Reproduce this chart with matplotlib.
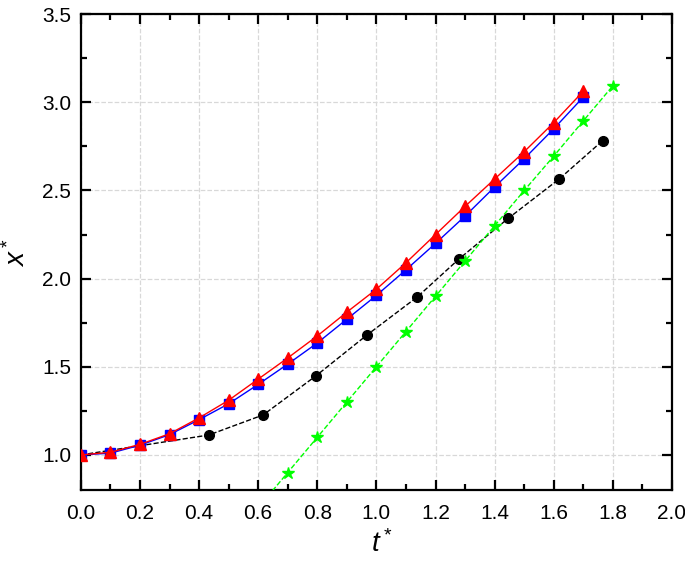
import numpy as np
import matplotlib
matplotlib.use('Agg')
import matplotlib.pyplot as plt
from matplotlib.ticker import MultipleLocator

plt.rcParams['font.family'] = ['Liberation Sans', 'DejaVu Sans']
plt.rcParams['mathtext.fontset'] = 'custom'
plt.rcParams['mathtext.it'] = 'Liberation Sans:italic'
plt.rcParams['mathtext.rm'] = 'Liberation Sans'

# series
t_sq = [0.0, 0.1, 0.2, 0.3, 0.4, 0.5, 0.6, 0.7, 0.8, 0.9, 1.0, 1.1, 1.2, 1.3, 1.4, 1.5, 1.6, 1.7]
x_sq = [1.0, 1.01, 1.055, 1.115, 1.2, 1.29, 1.40, 1.515, 1.635, 1.77, 1.905, 2.05, 2.20, 2.355, 2.52, 2.68, 2.85, 3.03]
x_tri = [1.0, 1.015, 1.06, 1.12, 1.21, 1.31, 1.43, 1.55, 1.675, 1.81, 1.94, 2.09, 2.25, 2.41, 2.565, 2.72, 2.885, 3.063]

t_circ = [0.0, 0.433, 0.617, 0.795, 0.968, 1.139, 1.279, 1.446, 1.619, 1.765]
x_circ = [1.0, 1.113, 1.227, 1.448, 1.68, 1.897, 2.111, 2.342, 2.566, 2.782]

t_star = [0.6, 0.7, 0.8, 0.9, 1.0, 1.1, 1.2, 1.3, 1.4, 1.5, 1.6, 1.7, 1.8]
x_star = [0.7, 0.9, 1.1, 1.3, 1.5, 1.7, 1.9, 2.1, 2.3, 2.5, 2.695, 2.895, 3.094]

fig = plt.figure(figsize=(6.85, 5.68), dpi=100)
ax = fig.add_axes([0.118, 0.137, 0.863, 0.838])

ax.plot(t_circ, x_circ, color='black', ls='--', lw=1, marker='o', ms=7, zorder=3)
ax.plot(t_star, x_star, color='#00ff00', ls='--', lw=1, marker='*', ms=9, zorder=3)
ax.plot(t_sq, x_sq, color='blue', ls='-', lw=1, marker='s', ms=7, zorder=4)
ax.plot(t_sq, x_tri, color='red', ls='-', lw=1, marker='^', ms=9, zorder=5)

ax.set_xlim(0, 2.0)
ax.set_ylim(0.8, 3.5)
ax.xaxis.set_major_locator(MultipleLocator(0.2))
ax.xaxis.set_minor_locator(MultipleLocator(0.1))
ax.yaxis.set_major_locator(MultipleLocator(0.5))
ax.yaxis.set_minor_locator(MultipleLocator(0.25))

ax.grid(True, which='major', color='#d8d8d8', ls='--', lw=0.9)
ax.set_axisbelow(True)

for s in ax.spines.values():
    s.set_linewidth(1.6)
ax.tick_params(which='both', direction='in', top=True, right=True, labelsize=15, width=1.6)
ax.tick_params(axis='x', which='major', length=7, pad=10)
ax.tick_params(axis='y', which='major', length=7, pad=7)
ax.tick_params(which='minor', length=4)

ax.set_xlabel(r'$t^*$', fontsize=20)
ax.set_ylabel(r'$x^*$', fontsize=20)
ax.xaxis.set_label_coords(0.51, -0.085)
ax.yaxis.set_label_coords(-0.085, 0.5)

fig.savefig('out.png', dpi=100)
